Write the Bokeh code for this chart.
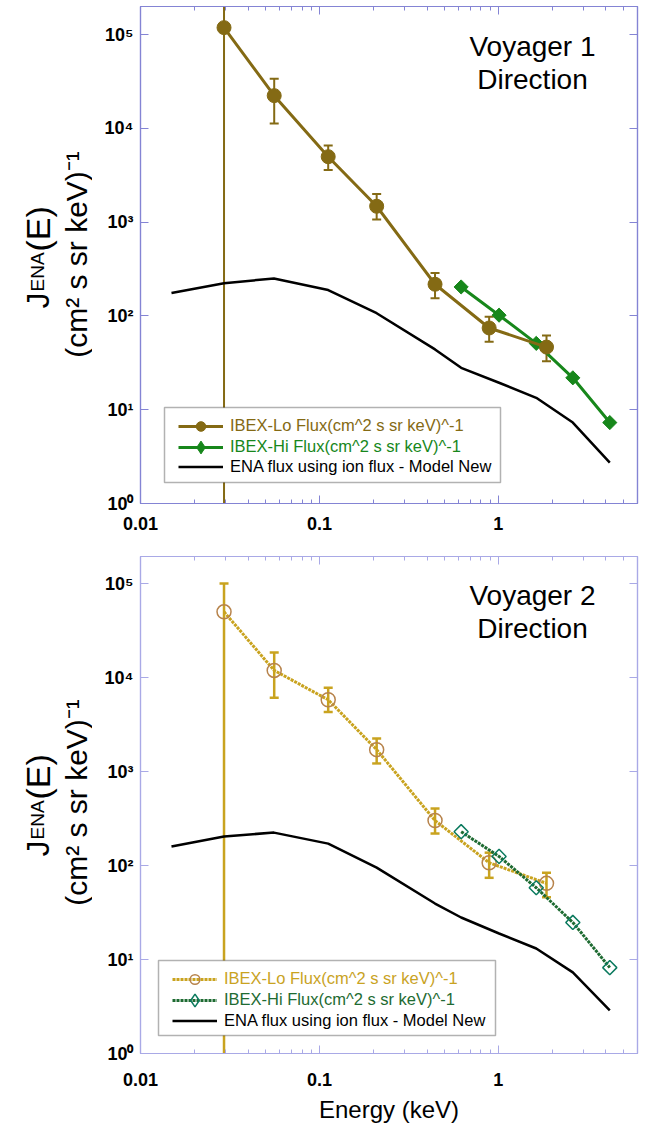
import math
from bokeh.plotting import figure
from bokeh.models import (LogAxis, FixedTicker, Label, Legend, LegendItem,
                          BoxAnnotation, Range1d)
from bokeh.layouts import column, row
from bokeh.embed import file_html
from bokeh.resources import INLINE

# ---------------- data ----------------
energy_lo = [0.0293, 0.0559, 0.112, 0.209, 0.443, 0.889, 1.86]
energy_hi = [0.62, 1.01, 1.63, 2.61, 4.2]
energy_model = [0.0149, 0.0293, 0.0557, 0.112, 0.209, 0.443, 0.62, 1.01, 1.63, 2.61, 4.2]

v1_lo_flux = [1.19e5, 2.24e4, 5.0e3, 1.48e3, 218, 74.5, 46.6]
v1_lo_upper = [5e5, 3.4e4, 6.6e3, 2.0e3, 287, 98, 62]
v1_lo_lower = [0.1, 1.13e4, 3.6e3, 1.07e3, 155, 53, 33]
v1_hi_flux = [204, 102, 51, 21.9, 7.3]
v1_model = [176, 224, 251, 189, 107, 44, 28, 19.4, 13.4, 7.3, 2.73]

v2_lo_flux = [5.0e4, 1.19e4, 5.8e3, 1.71e3, 301, 107, 64.6]
v2_lo_upper = [1.0e5, 1.85e4, 7.8e3, 2.24e3, 404, 137, 84]
v2_lo_lower = [0.1, 6.1e3, 4.3e3, 1.22e3, 219, 74, 46]
v2_hi_flux = [229, 125, 58, 24.8, 8.2]
v2_model = [159, 204, 224, 171, 95, 39.4, 28, 18.9, 13.1, 7.3, 2.87]

x_ticks = [0.01, 0.1, 1]
x_tick_labels = ["0.01", "0.1", "1"]
y_ticks = [1, 10, 100, 1000, 10000, 100000]
y_tick_labels = ["10\u2070", "10\u00b9", "10\u00b2", "10\u00b3", "10\u2074", "10\u2075"]

label_lo = "IBEX-Lo Flux(cm^2 s sr keV)^-1"
label_hi = "IBEX-Hi Flux(cm^2 s sr keV)^-1"
label_model = "ENA flux using ion flux - Model New"
x_label = "Energy (keV)"
y_label_main = ["J", "ENA", "(E)"]
y_label_units = "(cm\u00b2 s sr keV)\u207b\u00b9"

FONT = "Liberation Sans"
x_minor = [m * 10.0 ** d for d in (-2, -1, 0) for m in range(2, 10)]
LEFT_W = 92
NAN = float("nan")


def style_axes(p, axis_color, x_standoff):
    p.xgrid.visible = False
    p.ygrid.visible = False
    p.outline_line_color = axis_color
    p.outline_line_width = 1.2
    bottom = p.below[0]
    left = p.left[0]
    top = LogAxis()
    right = LogAxis()
    p.add_layout(top, "above")
    p.add_layout(right, "right")
    for ax in (bottom, top):
        ax.ticker = FixedTicker(ticks=x_ticks, minor_ticks=x_minor)
        ax.minor_tick_in = 4
        ax.minor_tick_out = 0
        ax.minor_tick_line_color = axis_color
    for ax in (left, right):
        ax.ticker = FixedTicker(ticks=y_ticks, minor_ticks=[])
        ax.minor_tick_line_color = None
    for ax in (bottom, top, left, right):
        ax.major_tick_in = 8
        ax.major_tick_out = 0
        ax.major_tick_line_color = axis_color
        ax.axis_line_color = axis_color
        ax.axis_line_width = 1.2
        ax.major_label_text_font = FONT
        ax.major_label_text_font_style = "bold"
        ax.major_label_text_font_size = "18px"
        ax.major_label_text_color = "black"
    for ax in (top, right):
        ax.major_label_text_color = None
        ax.major_label_text_font_size = "0px"
        ax.major_label_standoff = 0
    bottom.major_label_overrides = dict(zip(x_ticks, x_tick_labels))
    bottom.major_label_standoff = x_standoff
    left.major_label_overrides = dict(zip(y_ticks, y_tick_labels))
    left.major_label_standoff = 7
    return bottom


def label_panel(height):
    # the frame of this panel is aligned with the neighbouring plot frame;
    # positions below are measured from the frame bottom.
    q = figure(width=LEFT_W, height=height, x_range=Range1d(0, LEFT_W),
               y_range=Range1d(0, height), min_border=0, toolbar_location=None,
               x_axis_location=None, y_axis_location=None, output_backend="svg",
               background_fill_color="white", border_fill_color="white")
    q.outline_line_color = None
    q.grid.visible = False
    kw = dict(x_units="screen", y_units="screen", angle=math.pi / 2,
              text_font=FONT, text_color="black", text_baseline="alphabetic",
              text_align="left")
    q.add_layout(Label(x=37, y=195, text=y_label_main[0], text_font_size="32px", **kw))
    q.add_layout(Label(x=37, y=212, text=y_label_main[1], text_font_size="19px", **kw))
    q.add_layout(Label(x=37, y=252, text=y_label_main[2], text_font_size="34px", **kw))
    kw["text_align"] = "center"
    q.add_layout(Label(x=76, y=249, text=y_label_units, text_font_size="30px", **kw))
    return q


def add_title(p, name, y0):
    for i, t in enumerate([name, "Direction"]):
        p.add_layout(Label(x=392, y=y0 - 33 * i, x_units="screen", y_units="screen",
                           text=t, text_font=FONT, text_font_size="28px",
                           text_align="center", text_baseline="middle",
                           text_color="black"))


def add_legend(p, entries, box, x, ys):
    l, r, b, t = box
    p.add_layout(BoxAnnotation(left=l, right=r, bottom=b, top=t,
                               left_units="screen", right_units="screen",
                               bottom_units="screen", top_units="screen",
                               fill_color="white", fill_alpha=1.0,
                               line_color="black", line_width=1.5))
    for (label, rends, color, gh), yy in zip(entries, ys):
        lg = Legend(items=[LegendItem(label=label, renderers=rends)],
                    location=(x, yy - (gh - 21) / 2), orientation="vertical",
                    padding=0, margin=0,
                    spacing=0, border_line_color=None, background_fill_alpha=0,
                    label_text_color=color, label_text_font=FONT,
                    label_text_font_size="16.5px", glyph_width=45, glyph_height=gh,
                    label_height=21, label_standoff=7)
        p.add_layout(lg)


# ---------------- panel 1 (Voyager 1) ----------------
c_lo1 = "#846a14"
c_hi1 = "#17871b"
p1 = figure(x_axis_type="log", y_axis_type="log", frame_width=497, frame_height=497,
            x_range=Range1d(0.01, 6), y_range=Range1d(1, 2.0e5),
            output_backend="svg", toolbar_location=None,
            min_border_left=48, min_border_right=7, min_border_top=6,
            min_border_bottom=37, background_fill_color="white",
            border_fill_color="white")
style_axes(p1, "#8484d4", 13)

p1.segment(x0=energy_lo, y0=v1_lo_lower, x1=energy_lo, y1=v1_lo_upper,
           line_color=c_lo1, line_width=2)
p1.scatter(energy_lo, v1_lo_upper, marker="dash", size=9, line_color=c_lo1, line_width=2)
p1.scatter(energy_lo, v1_lo_lower, marker="dash", size=9, line_color=c_lo1, line_width=2)
r_model1 = p1.line(energy_model, v1_model, line_color="black", line_width=2.5)
r_hil1 = p1.line(energy_hi, v1_hi_flux, line_color=c_hi1, line_width=3)
r_him1 = p1.scatter(energy_hi, v1_hi_flux, marker="square", angle=math.pi / 4, size=10,
                    fill_color=c_hi1, line_color=c_hi1)
# legend key only (no visible point)
r_hikey1 = p1.scatter(x=[NAN], y=[NAN], marker="diamond", size=15,
                      fill_color=c_hi1, line_color=c_hi1)
r_lol1 = p1.line(energy_lo, v1_lo_flux, line_color=c_lo1, line_width=3)
r_lom1 = p1.scatter(energy_lo, v1_lo_flux, marker="circle", size=14,
                    fill_color=c_lo1, line_color=c_lo1)

add_title(p1, "Voyager 1", 457)
add_legend(p1, [(label_lo, [r_lol1, r_lom1], c_lo1, 24),
                (label_hi, [r_hil1, r_hikey1], c_hi1, 32),
                (label_model, [r_model1], "black", 21)],
           (24, 360, 21, 96), 38, [67, 46, 26])

# ---------------- panel 2 (Voyager 2) ----------------
c_lo2 = "#c9a31f"
c_lo2m = "#b7834b"
c_hi2 = "#1e6b32"
c_hi2m = "#0b7a5e"
p2 = figure(x_axis_type="log", y_axis_type="log", frame_width=497, frame_height=497,
            x_range=Range1d(0.01, 6), y_range=Range1d(1, 1.94e5),
            output_backend="svg", toolbar_location=None,
            min_border_left=48, min_border_right=7, min_border_top=16,
            min_border_bottom=70, background_fill_color="white",
            border_fill_color="white")
bx2 = style_axes(p2, "#a9a9e6", 19)
bx2.axis_label = x_label
bx2.axis_label_text_font = FONT
bx2.axis_label_text_font_size = "24px"
bx2.axis_label_text_font_style = "normal"
bx2.axis_label_text_color = "black"
bx2.axis_label_standoff = 7

p2.segment(x0=energy_lo, y0=v2_lo_lower, x1=energy_lo, y1=v2_lo_upper,
           line_color=c_lo2, line_width=2.5)
p2.scatter(energy_lo, v2_lo_upper, marker="dash", size=9, line_color=c_lo2, line_width=2.5)
p2.scatter(energy_lo, v2_lo_lower, marker="dash", size=9, line_color=c_lo2, line_width=2.5)
r_model2 = p2.line(energy_model, v2_model, line_color="black", line_width=2.5)
r_lol2 = p2.line(energy_lo, v2_lo_flux, line_color=c_lo2, line_width=3, line_dash="3 1")
r_lom2 = p2.scatter(energy_lo, v2_lo_flux, marker="circle", size=14,
                    fill_color=None, line_color=c_lo2m, line_width=1.5)
r_hil2 = p2.line(energy_hi, v2_hi_flux, line_color=c_hi2, line_width=3, line_dash="3 1")
r_him2 = p2.scatter(energy_hi, v2_hi_flux, marker="square", angle=math.pi / 4, size=10,
                    fill_color=None, line_color=c_hi2m, line_width=1.5)
r_hikey2 = p2.scatter(x=[NAN], y=[NAN], marker="diamond", size=15,
                      fill_color=None, line_color=c_hi2m, line_width=1.5)

add_title(p2, "Voyager 2", 458)
add_legend(p2, [(label_lo, [r_lol2, r_lom2], c_lo2, 24),
                (label_hi, [r_hil2, r_hikey2], c_hi2, 32),
                (label_model, [r_model2], "black", 21)],
           (18, 355, 18, 93), 32, [64, 43, 22])

l1 = label_panel(540)
l2 = label_panel(583)

layout = column(row(l1, p1), row(l2, p2))
open("out.html", "w").write(file_html(layout, INLINE, title="IBEX ENA flux"))
